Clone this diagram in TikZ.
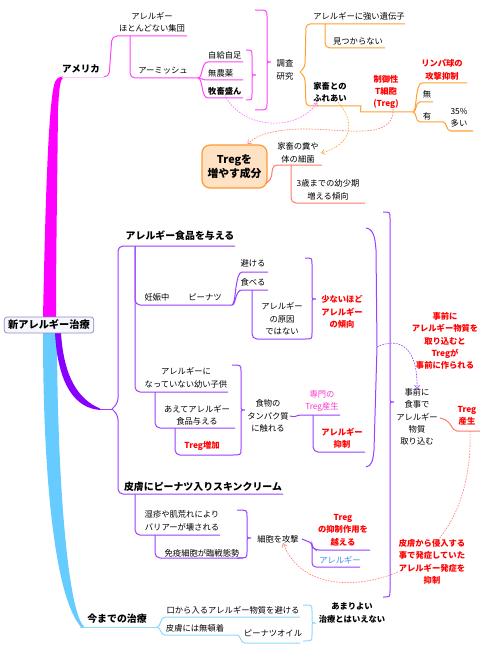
\documentclass[tikz,border=0pt]{standalone}
\usepackage{fontspec}
\newfontfamily\jp{Noto Sans CJK JP}
\usepackage{tikz}
\usetikzlibrary{arrows.meta}
\definecolor{mgmain}{HTML}{FF00FF}
\definecolor{mgline}{HTML}{FF44FF}
\definecolor{mgpale}{HTML}{FFC8FF}
\definecolor{orline}{HTML}{FFA033}
\definecolor{slline}{HTML}{FF7A6E}
\definecolor{pumain}{HTML}{8800FF}
\definecolor{puline}{HTML}{9A40FF}
\definecolor{lbmain}{HTML}{66CCFF}
\definecolor{lbline}{HTML}{8FD8FF}
\definecolor{redtxt}{HTML}{FF0000}
\definecolor{pinktxt}{HTML}{FF33CC}
\definecolor{bluetxt}{HTML}{3D8BF5}
\definecolor{boxfill}{HTML}{FFE1C4}
\definecolor{boxline}{HTML}{FF9933}
\definecolor{rootline}{HTML}{8C8CC0}
\definecolor{rootfill}{HTML}{F6F6FF}
\newcommand{\mindbrace}[6]{%
  \draw[#1] (#2,#4) .. controls (#3,#4) .. (#3,#4+6) -- (#3,#5-4)
    .. controls (#3,#5) .. (#3+4,#5) .. controls (#3,#5) .. (#3,#5+4)
    -- (#3,#6-6) .. controls (#3,#6) .. (#2,#6);}

\begin{document}
\begin{tikzpicture}[x=1pt,y=-1pt,
  font=\jp\fontsize{8.3}{12.4}\selectfont,
  lbl/.style={inner sep=0pt,align=center},
  boldlbl/.style={lbl,font=\jp\bfseries\fontsize{8.3}{12.4}\selectfont},
  headlbl/.style={lbl,font=\jp\bfseries\fontsize{9.9}{12}\selectfont},
  redlbl/.style={boldlbl,text=redtxt},
  rootbox/.style={draw=rootline,fill=rootfill,line width=0.7pt,rounded corners=3pt,
    inner xsep=4pt,inner ysep=3pt,font=\jp\bfseries\fontsize{10.2}{12}\selectfont},
  tregbox/.style={draw=boxline,fill=boxfill,line width=1.2pt,rounded corners=8pt,
    minimum width=65pt,minimum height=43pt,inner sep=0pt,align=center,
    font=\jp\bfseries\fontsize{10.8}{14.5}\selectfont},
  mgbr/.style={draw=mgline,line width=1pt},
  orbr/.style={draw=orline,line width=1pt},
  slbr/.style={draw=slline,line width=1pt},
  pubr/.style={draw=puline,line width=1pt},
  lbbr/.style={draw=lbline,line width=1pt},
  dasharr/.style={line width=0.6pt,dash pattern=on 1.6pt off 1.2pt,
    -{Straight Barb[length=3.5pt,width=5pt]}}
]
\useasboundingbox (0,0) rectangle (490,650);
\fill[white] (0,0) rectangle (490,650);

\fill[mgmain] (43,318) .. controls (45,220) and (48,100) .. (55,82)
  .. controls (57,78) and (59,77) .. (63,76.5) -- (63,78)
  .. controls (60,80) and (59,90) .. (58,110) .. controls (57,200) and (56,260) .. (56,318) -- cycle;
\fill[lbmain] (43,332) .. controls (43,480) and (55,600) .. (82,628)
  -- (84,626.5) .. controls (68,612) and (57,480) .. (57,332) -- cycle;
\fill[pumain] (55,333) .. controls (58,385) and (75,408) .. (100,410)
  -- (100,408.5) .. controls (80,400) and (64,380) .. (61,333) -- cycle;
\node[rootbox] (root) at (49,325) {新アレルギー治療};

\node[headlbl,font=\jp\bfseries\fontsize{9.5}{12}\selectfont] (us) at (81,69) {アメリカ};
\node[lbl] (ahd) at (152,22) {アレルギー\\ほとんどない集団};
\node[lbl] (amish) at (163,71) {アーミッシュ};
\node[lbl,anchor=west] (jikyu) at (208,55) {自給自足};
\node[lbl,anchor=west] (munoyaku) at (208,73) {無農薬};
\node[boldlbl,anchor=west] (bokuchiku) at (208,91) {牧畜盛ん};
\node[lbl] (chosa) at (285,70) {調査\\研究};
\node[lbl] (gene) at (359,16) {アレルギーに強い遺伝子};
\node[lbl] (notfound) at (358,41) {見つからない};
\node[boldlbl] (kachiku) at (330,92) {家畜との\\ふれあい};
\node[redlbl] (treg) at (386,92) {制御性\\T細胞\\(Treg)};
\node[redlbl] (lymph) at (442,70) {リンパ球の\\攻撃抑制};
\node[lbl] (mu) at (427,94) {無};
\node[lbl] (u) at (427,116) {有};
\node[lbl] (pct) at (459,118) {35\%\\多い};
\node[tregbox] (tregbox) at (234.5,166.5) {Tregを\\増やす成分};
\node[lbl] (funben) at (298,153) {家畜の糞や\\体の細菌};
\node[lbl] (age3) at (328,190) {3歳までの幼少期\\増える傾向};

\draw[mgpale,line width=1.6pt] (62,77.5) -- (104,77.5);
\coordinate (usend) at (104,77);
\coordinate (ahdbr) at (130,36);
\coordinate (amend) at (198,78);
\draw[mgbr,rounded corners=5pt] (usend) -- (109,77) -- (112,36) -- (187,36);
\draw[mgbr,rounded corners=5pt] (ahdbr) |- (amend);
\draw[mgbr] (amend) .. controls (203,78) and (201,62) .. (208,62) -- (243,62);
\draw[mgbr] (amend) .. controls (202,78) and (202,80) .. (207,80) -- (243,80);
\draw[mgbr] (amend) .. controls (203,78) and (201,98) .. (208,98) -- (243,98);
\mindbrace{mgbr}{246}{252}{50}{75}{100}
\mindbrace{mgbr}{255}{267}{10}{62}{110}

\coordinate (chosabr) at (300,72);
\coordinate (tregend) at (413,112);
\draw[orbr,rounded corners=4pt] (chosabr) -- (305,67) -- (306,24) -- (405,24);
\draw[orbr,rounded corners=4pt] (chosabr) -- (305,77) -- (306,106) -- (357,106)
  .. controls (361,106) and (360,112) .. (365,112) -- (tregend);
\draw[orbr,rounded corners=5pt] (325,24) |- (385,48);
\draw[orbr] (tregend) .. controls (417,112) and (415,83) .. (422,83) -- (467,83);
\draw[orbr] (tregend) .. controls (417,112) and (415,102) .. (420,102) -- (433,102);
\draw[orbr] (tregend) .. controls (417,112) and (415,122) .. (420,122) -- (443,122)
  .. controls (447,122) and (446,131) .. (451,131) -- (473,131);

\draw[slbr,rounded corners=4pt] (266,183) -- (271,180) -- (273,165) -- (322,165);
\draw[slbr,rounded corners=5pt] (291,165) |- (365,203);

\draw[dasharr,draw=mgline!80] (bokuchiku.south) .. controls (242,130) and (298,132) .. ([xshift=4pt]kachiku.south west);
\draw[dasharr,draw=orline] ([xshift=8pt]kachiku.south) .. controls (356,122) and (352,145) .. ([xshift=2pt]funben.east);
\draw[dasharr,draw=slline] ([xshift=7pt]treg.south) .. controls (395,142) and (340,128) .. (300,129)
  .. controls (268,130) and (254,137) .. ([xshift=13pt]tregbox.north);

\node[headlbl] (food) at (180,236) {アレルギー食品を与える};
\node[lbl] (preg) at (157,297) {妊娠中};
\node[lbl] (peanut) at (205,297) {ピーナツ};
\node[lbl] (avoid) at (253,263) {避ける};
\node[lbl] (eat) at (253,282) {食べる};
\node[lbl] (notcause) at (282,319) {アレルギー\\の原因\\ではない};
\node[redlbl] (fewer) at (342,312) {少ないほど\\アレルギー\\の傾向};
\node[lbl] (young) at (186,378) {アレルギーに\\なっていない幼い子供};
\node[lbl] (daring) at (197,415) {あえてアレルギー\\食品与える};
\node[redlbl] (tregup) at (202,446) {Treg増加};
\node[lbl] (protein) at (268,416) {食物の\\タンパク質\\に触れる};
\node[lbl,text=pinktxt] (senmon) at (322,401) {専門の\\Treg産生};
\node[redlbl] (suppress) at (342,438) {アレルギー\\抑制};
\node[redlbl] (precap) at (445,341) {事前に\\アレルギー物質を\\取り込むと\\Tregが\\事前に作られる};
\node[lbl] (eatin) at (417,417) {事前に\\食事で\\アレルギー\\物質\\取り込む};
\node[redlbl] (tregprod) at (467,416) {Treg\\産生};

\coordinate (pujoin) at (112,409);
\draw[pubr] (100,409) -- (pujoin);
\draw[pubr,rounded corners=5pt] (pujoin) -- (118,403) -- (118,246) -- (235,246);
\draw[pubr,rounded corners=5pt] (pujoin) -- (118,415) -- (118,494) -- (283,494);
\draw[pubr,rounded corners=5pt] (135,246) |- (232,305);
\draw[pubr,rounded corners=5pt] (135,246) |- (228,392);
\draw[pubr] (232,305) .. controls (236,305) and (235,272) .. (242,272) -- (268,272);
\draw[pubr] (232,305) .. controls (236,305) and (235,290) .. (242,290) -- (268,290);
\draw[pubr,rounded corners=5pt] (252,290) |- (305,339);
\mindbrace{pubr}{305}{312}{258}{299}{339}
\draw[pubr,rounded corners=5pt] (155,392) |- (235,428);
\draw[pubr,rounded corners=5pt] (175,428) |- (232,455);
\mindbrace{pubr}{232}{241}{365}{410}{455}
\draw[pubr] ([xshift=1pt]protein.east) .. controls (296,418) and (296,415) .. (301,415) -- (340,415);
\draw[pubr,rounded corners=5pt] (313,415) |- (365,452);
\coordinate (braceA) at (377,347);
\draw[pubr] (366,228) .. controls (373,229) and (375,236) .. (376,250) -- (braceA)
  -- (374,450) .. controls (373,462) and (371,466) .. (366,467);
\mindbrace{pubr}{383}{390}{212}{402}{597}
\draw[dasharr,draw=puline] (braceA) .. controls (395,338) and (418,342) .. ([yshift=-1pt]eatin.north);
\draw[slbr] ([xshift=2pt]eatin.east |- 0,418) .. controls (452,420) and (451,431) .. (457,431) -- (480,431);

\node[headlbl] (skin) at (203,487) {皮膚にピーナツ入りスキンクリーム};
\node[lbl] (eczema) at (182,521) {湿疹や肌荒れにより\\バリアーが壊される};
\node[lbl] (immune) at (202,553) {免疫細胞が臨戦態勢};
\node[lbl] (attack) at (278,539) {細胞を攻撃};
\node[redlbl] (overcome) at (343,530) {Treg\\の抑制作用を\\越える};
\node[lbl,text=bluetxt] (allergy) at (340,560) {アレルギー};

\draw[pubr,rounded corners=5pt] (135,494) |- (220,535);
\draw[pubr,rounded corners=5pt] (155,535) |- (243,558);
\mindbrace{pubr}{237}{247}{510}{538}{558}
\draw[pubr,rounded corners=3pt] ([xshift=3pt]attack.east) -- (312,543) -- (312,547) -- (316,550) -- (370,550);
\draw[pubr,rounded corners=4pt] (312,546) -- (312,567) -- (360,567);

\coordinate (tpend) at (470,431);
\draw[dasharr,draw=slline] (tpend) .. controls (472,500) and (445,540) .. (415,562)
  .. controls (385,585) and (305,600) .. ([xshift=5pt]attack.south);
\node[redlbl,fill=white,inner sep=1pt] (skinsup) at (432,562) {皮膚から侵入する\\事で発症していた\\アレルギー発症を\\抑制};

\node[headlbl] (now) at (117,619) {今までの治療};
\node[lbl] (mouth) at (233,610) {口から入るアレルギー物質を避ける};
\node[lbl] (muton) at (195,628) {皮膚には無頓着};
\node[lbl] (oil) at (273,633) {ピーナツオイル};
\node[boldlbl] (notgood) at (352,613) {あまりよい\\治療とはいえない};

\draw[lbbr] (80,627) -- (157,627);
\draw[lbbr] (157,627) .. controls (161,627) and (160,617) .. (165,617) -- (300,617);
\draw[lbbr] (157,627) .. controls (161,627) and (160,635) .. (165,635) -- (237,635)
  .. controls (241,635) and (240,643) .. (245,643) -- (300,643);
\mindbrace{lbbr}{303}{312}{605}{623}{641}
\end{tikzpicture}
\end{document}
